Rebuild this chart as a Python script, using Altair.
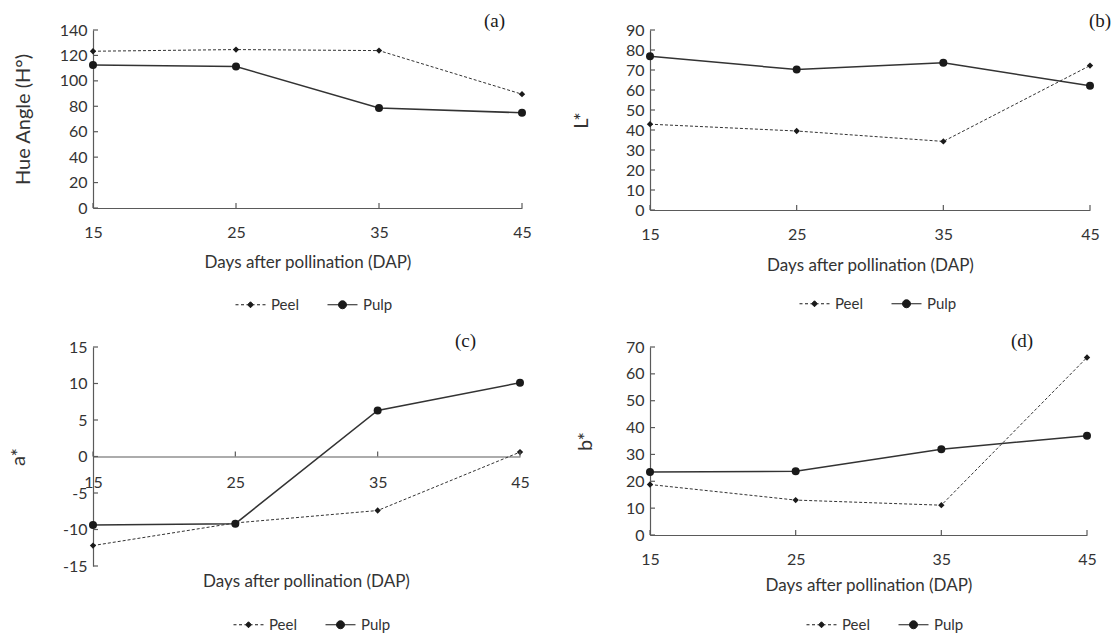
import altair as alt
import pandas as pd

# ---------------- data ----------------
days = [15, 25, 35, 45]
series = ["Peel", "Pulp"]

hue_peel = [123.3, 124.6, 123.8, 89.5]
hue_pulp = [112.4, 111.3, 78.6, 74.9]
l_peel = [42.9, 39.5, 34.3, 72.2]
l_pulp = [76.9, 70.2, 73.6, 62.1]
a_peel = [-12.2, -9.1, -7.4, 0.6]
a_pulp = [-9.4, -9.2, 6.3, 10.1]
b_peel = [18.8, 13.0, 11.1, 66.1]
b_pulp = [23.5, 23.7, 31.9, 37.0]

hue_ticks = [0, 20, 40, 60, 80, 100, 120, 140]
l_ticks = [0, 10, 20, 30, 40, 50, 60, 70, 80, 90]
a_ticks = [-15, -10, -5, 0, 5, 10, 15]
b_ticks = [0, 10, 20, 30, 40, 50, 60, 70]

x_title = "Days after pollination (DAP)"

# ---------------- style ----------------
AXIS_COLOR = "#5a5a5a"
TEXT_COLOR = "#333333"
LINE_COLOR = "#333333"
MARK_COLOR = "#1a1a1a"
FONT = "Lato"
SERIF = "Liberation Serif"

PEEL_SYMBOL = ("M-1.5,0H-1.2M-0.95,0H-0.65M-0.4,0H-0.3M0.3,0H0.4M0.65,0H0.95M1.2,0H1.5"
               "M0,-0.3L0.3,0L0,0.3L-0.3,0Z")
PULP_SYMBOL = "M-1.5,0H1.5M0.4,0A0.4,0.4,0,1,1,-0.4,0A0.4,0.4,0,1,1,0.4,0Z"


def panel(peel, pulp, ticks, y_title, label, w, h, tpad, lab_xy, leg_xy,
          x_tpad=11, zero_axis=False):
    df = pd.DataFrame({
        "DAP": days + days,
        "value": peel + pulp,
        "series": ["Peel"] * len(days) + ["Pulp"] * len(days),
    })
    ymin, ymax = ticks[0], ticks[-1]
    xs = alt.Scale(domain=[days[0], days[-1]], nice=False, zero=False)
    ys = alt.Scale(domain=[ymin, ymax], nice=False, zero=False)

    if zero_axis:
        x_axis = alt.Axis(values=days, title=None, offset=-h * (0 - ymin) / (ymax - ymin),
                          labelPadding=18)
    else:
        x_axis = alt.Axis(values=days, title=x_title, titlePadding=x_tpad)
    y_axis = alt.Axis(values=ticks, title=y_title, titlePadding=tpad,
                      labelExpr="'' + datum.value")

    base = alt.Chart(df)
    x = alt.X("DAP:Q", scale=xs, axis=x_axis)
    y = alt.Y("value:Q", scale=ys, axis=y_axis)

    peel_line = base.transform_filter(alt.datum.series == "Peel").mark_line(
        color=LINE_COLOR, strokeWidth=1, strokeDash=[3, 2]).encode(x=x, y=y)
    pulp_line = base.transform_filter(alt.datum.series == "Pulp").mark_line(
        color=LINE_COLOR, strokeWidth=1.5).encode(x=x, y=y)
    peel_pts = base.transform_filter(alt.datum.series == "Peel").mark_point(
        shape="diamond", filled=True, size=40, color=MARK_COLOR, opacity=1).encode(x=x, y=y)
    pulp_pts = base.transform_filter(alt.datum.series == "Pulp").mark_point(
        shape="circle", filled=True, size=64, color=MARK_COLOR, opacity=1).encode(x=x, y=y)

    # inward-pointing tick marks (as in the original), sharing the same axes
    ytick = alt.Chart(pd.DataFrame({"value": ticks})).mark_tick(
        orient="horizontal", size=5, thickness=1.2, color=AXIS_COLOR, opacity=1
    ).encode(y=y, x=alt.value(2.5))
    xtick = alt.Chart(pd.DataFrame({"DAP": days, "value": [0] * len(days)})).mark_tick(
        orient="vertical", size=5, thickness=1.2, color=AXIS_COLOR, opacity=1, yOffset=-2.5
    ).encode(x=x, y=y)

    legend_layer = base.transform_filter("false").mark_point(
        filled=True, color=MARK_COLOR, stroke=MARK_COLOR, strokeWidth=1, opacity=1, size=400
    ).encode(
        shape=alt.Shape(
            "series:N",
            scale=alt.Scale(domain=series, range=[PEEL_SYMBOL, PULP_SYMBOL]),
            legend=alt.Legend(
                title=None, orient="none", legendX=leg_xy[0], legendY=leg_xy[1],
                direction="horizontal", symbolSize=400, labelOffset=10, columnPadding=26,
                padding=0, labelFont=FONT, labelFontSize=15, labelColor=TEXT_COLOR,
                symbolStrokeWidth=1,
            ),
        )
    )

    lab = alt.Chart(pd.DataFrame({"t": [label]})).mark_text(
        align="left", baseline="middle", font=SERIF, fontSize=19, color="#1a1a1a"
    ).encode(text="t:N", x=alt.value(lab_xy[0]), y=alt.value(lab_xy[1]))

    layers = [peel_line, pulp_line, peel_pts, pulp_pts, ytick, xtick, legend_layer, lab]
    if zero_axis:
        xt = alt.Chart(pd.DataFrame({"t": [x_title]})).mark_text(
            align="center", baseline="middle", font=FONT, fontSize=17, color=TEXT_COLOR
        ).encode(text="t:N", x=alt.value(w / 2), y=alt.value(h + 16))
        layers.append(xt)
    return alt.layer(*layers).properties(width=w, height=h)


pa = panel(hue_peel, hue_pulp, hue_ticks, "Hue Angle (H°)", "(a)", 429, 178, 26,
           (391, -9), (147, 264), x_tpad=14)
pb = panel(l_peel, l_pulp, l_ticks, "L*", "(b)", 440, 180, 33.5,
           (439, -9), (154, 263), x_tpad=15)
pc = panel(a_peel, a_pulp, a_ticks, "a*", "(c)", 427, 219, 34,
           (362, -6), (145, 267), zero_axis=True)
pd_ = panel(b_peel, b_pulp, b_ticks, "b*", "(d)", 437, 188, 29.5,
            (361, -6), (161, 267), x_tpad=10)

chart = alt.concat(
    pa, pb, pc, pd_, columns=2,
    spacing={"row": 98, "column": 117},
    bounds="flush", align="all",
).resolve_scale(
    x="independent", y="independent", shape="independent"
).resolve_legend(
    shape="independent"
).properties(
    padding={"left": 8, "top": 12, "right": 0, "bottom": 0}
).configure_view(
    stroke=None
).configure_axis(
    domainColor=AXIS_COLOR, domainWidth=1.2, ticks=False, tickSize=0, grid=False,
    labelFont=FONT, labelFontSize=16, labelColor=TEXT_COLOR, labelFlush=False,
    titleFont=FONT, titleColor=TEXT_COLOR, titleFontWeight="normal",
).configure_axisX(
    labelPadding=16, titleFontSize=17,
).configure_axisY(
    labelPadding=6, titleFontSize=20,
)

chart.save("out.html", embed_options={"renderer": "svg", "actions": False})
